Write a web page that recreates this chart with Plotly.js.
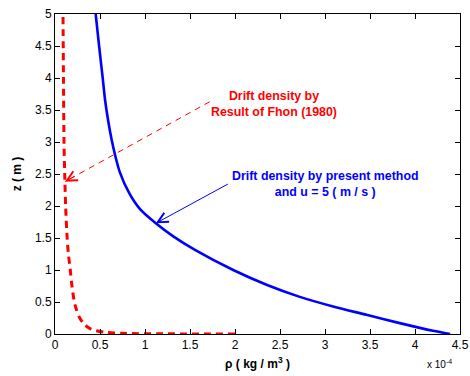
<!DOCTYPE html>
<html>
<head>
<meta charset="utf-8">
<script src="https://cdn.plot.ly/plotly-3.0.1.min.js"></script>
<style>html,body{margin:0;padding:0;background:#fff}#chart{width:470px;height:376px}</style>
</head>
<body>
<div id="chart"></div>
<script>
// Present method (u = 5 m/s), rho in units of 1e-4 kg/m^3
var presentZ   = [0, 0.05, 0.17, 0.30, 0.43, 0.58, 0.77, 1.00, 1.31, 1.53, 1.73, 1.95, 2.20, 2.53, 2.80, 3.03, 3.34, 3.66, 4.00, 4.50, 5.00];
var presentRho = [4.39, 4.20, 3.83, 3.46, 3.09, 2.72, 2.35, 1.98, 1.56, 1.31, 1.12, 0.945, 0.825, 0.72, 0.667, 0.63, 0.59, 0.556, 0.53, 0.49, 0.452];
// Result of Fhon (1980)
var fhonZ   = [0, 0.003, 0.01, 0.025, 0.06, 0.10, 0.17, 0.25, 0.375, 0.5, 0.79, 1.0, 1.26, 1.5, 2.0, 2.5, 3.0, 4.0, 5.0];
var fhonRho = [2.0, 1.2, 0.75, 0.57, 0.43, 0.37, 0.315, 0.275, 0.24, 0.215, 0.185, 0.17, 0.148, 0.135, 0.118, 0.108, 0.10, 0.094, 0.089];
var xTicks = [0, 0.5, 1, 1.5, 2, 2.5, 3, 3.5, 4, 4.5];
var xTickText = ["0", "0.5", "1", "1.5", "2", "2.5", "3", "3.5", "4", "4.5"];
var yTicks = [0, 0.5, 1, 1.5, 2, 2.5, 3, 3.5, 4, 4.5, 5];
var yTickText = ["0", "0.5", "1", "1.5", "2", "2.5", "3", "3.5", "4", "4.5", "5"];

var FONT = "Liberation Sans, Arial, Helvetica, sans-serif";

var traces = [
  {x: fhonRho, y: fhonZ, mode: "lines", line: {color: "#ff0000", width: 3, dash: "7px,5px", shape: "spline", smoothing: 0.8}, hoverinfo: "skip", showlegend: false},
  {x: presentRho, y: presentZ, mode: "lines", line: {color: "#0000ff", width: 2.6, shape: "spline", smoothing: 0.8}, hoverinfo: "skip", showlegend: false}
];

var axisCommon = {
  showline: true, linecolor: "#000", linewidth: 1, mirror: "ticks",
  ticks: "inside", ticklen: 5, tickwidth: 1, tickcolor: "#000",
  showgrid: false, zeroline: false, tickfont: {family: FONT, size: 12, color: "#000"}
};

var layout = {
  width: 470, height: 376,
  margin: {l: 55, r: 10, t: 14, b: 42},
  paper_bgcolor: "#fff", plot_bgcolor: "#fff",
  font: {family: FONT, color: "#000"},
  xaxis: Object.assign({}, axisCommon, {range: [0, 4.5], tickmode: "array", tickvals: xTicks, ticktext: xTickText,
    title: {text: "<b>ρ ( kg / m<sup>3</sup> )</b>", font: {family: FONT, size: 12}, standoff: 8}}),
  yaxis: Object.assign({}, axisCommon, {range: [0, 5], tickmode: "array", tickvals: yTicks, ticktext: yTickText,
    title: {text: "<b>z ( m )</b>", font: {family: FONT, size: 12}, standoff: 10}}),
  shapes: [
    {type: "line", xref: "x", yref: "y", x0: 1.72, y0: 3.63, x1: 0.11, y1: 2.38,
     line: {color: "#ff0000", width: 1, dash: "6px,5px"}}
  ],
  annotations: [
    {x: 2.43, y: 3.59, xref: "x", yref: "y", showarrow: false,
     text: "<b>Drift density by<br>Result of Fhon (1980)</b>", font: {family: FONT, size: 12.4, color: "#ff0000"}, align: "center"},
    {x: 3.0, y: 2.34, xref: "x", yref: "y", showarrow: false,
     text: "<b>Drift density by present method<br>and u = 5 ( m / s )</b>", font: {family: FONT, size: 12.4, color: "#0000ff"}, align: "center"},
    {x: 0.11, y: 2.38, xref: "x", yref: "y", ax: 11, ay: -6, text: "", showarrow: true,
     arrowhead: 5, arrowsize: 2, arrowwidth: 1, arrowcolor: "#ff0000", standoff: 0},
    {x: 1.12, y: 1.73, xref: "x", yref: "y", ax: 1.937, ay: 2.355, axref: "x", ayref: "y", text: "", showarrow: true,
     arrowhead: 5, arrowsize: 2, arrowwidth: 1, arrowcolor: "#0000ff", standoff: 0},
    {x: 1, y: 0, xref: "paper", yref: "paper", xanchor: "right", yanchor: "top", xshift: -6, yshift: -22, showarrow: false,
     text: "x 10<sup>-4</sup>", font: {family: FONT, size: 10, color: "#000"}}
  ]
};

Plotly.newPlot("chart", traces, layout, {staticPlot: true, displayModeBar: false});
</script>
</body>
</html>
